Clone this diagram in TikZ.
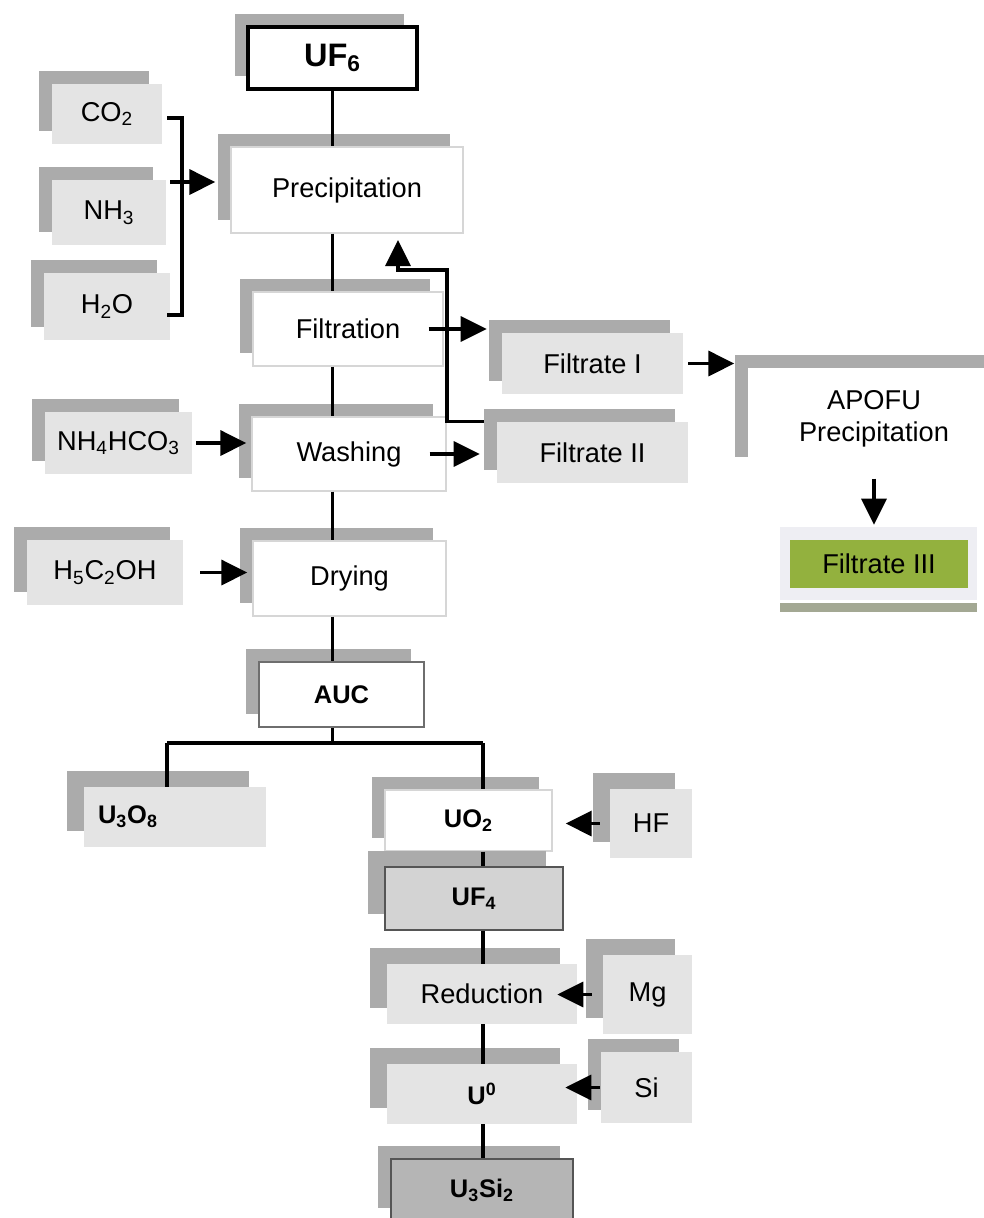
\documentclass[tikz,border=0pt]{standalone}
\usepackage{fontspec}
\setmainfont{Liberation Sans}
\usetikzlibrary{arrows.meta,shadows}
\definecolor{ShadowGray}{HTML}{ABABAB}
\definecolor{BoxGray}{HTML}{E4E4E4}
\definecolor{EdgeGray}{HTML}{D6D6D6}
\definecolor{AucEdge}{HTML}{6E6E6E}
\definecolor{DarkEdge}{HTML}{555555}
\definecolor{FluorideGray}{HTML}{D3D3D3}
\definecolor{SilicideGray}{HTML}{B5B5B5}
\definecolor{FiltrateGreen}{HTML}{93B13E}
\definecolor{FiltrateBack}{HTML}{EEEEF3}
\definecolor{FiltrateBar}{HTML}{A3A893}

\begin{document}
\begin{tikzpicture}[x=0.02cm, y=-0.02cm,
  every node/.style={font=\fontsize{15.5}{18}\selectfont, inner sep=0pt},
  shadowbox/.style={drop shadow={shadow xshift=-0.26cm, shadow yshift=0.26cm, opacity=1, fill=ShadowGray}},
  deepbox/.style={drop shadow={shadow xshift=-0.34cm, shadow yshift=0.32cm, opacity=1, fill=ShadowGray}},
  stepbox/.style={rectangle, fill=white, draw=EdgeGray, line width=0.8pt},
  inbox/.style={rectangle, fill=BoxGray},
  product/.style={font=\fontsize{14.5}{17}\selectfont\bfseries},
  link/.style={line width=2pt},
  flow/.style={link, -{Triangle[length=0.52cm, width=0.5cm]}}]
  \useasboundingbox (0,0) rectangle (984,1218);

  \node[stepbox, shadowbox, draw=black, line width=1.8pt, minimum width=3.38cm, minimum height=1.24cm, font=\fontsize{18.5}{22}\selectfont\bfseries] (uf6) at (332.5,58) {UF\textsubscript{6}};
  \node[inbox, shadowbox, minimum width=2.2cm, minimum height=1.2cm] (co2) at (107,114) {CO\textsubscript{2}};
  \node[inbox, shadowbox, minimum width=2.28cm, minimum height=1.3cm] (nh3) at (109,212.5) {NH\textsubscript{3}};
  \node[inbox, shadowbox, minimum width=2.52cm, minimum height=1.34cm] (h2o) at (107,306.5) {H\textsubscript{2}O};
  \node[stepbox, shadowbox, minimum width=4.64cm, minimum height=1.72cm] (prec) at (347,190) {Precipitation};
  \node[stepbox, shadowbox, minimum width=3.8cm, minimum height=1.48cm] (filt) at (348,329) {Filtration};
  \node[stepbox, shadowbox, minimum width=3.88cm, minimum height=1.48cm] (wash) at (349,454) {Washing};
  \node[stepbox, shadowbox, minimum width=3.86cm, minimum height=1.5cm] (dry) at (349.5,578.5) {Drying};
  \node[inbox, shadowbox, minimum width=2.94cm, minimum height=1.24cm] (nhhco) at (118.5,443) {NH\textsubscript{4}HCO\textsubscript{3}};
  \node[inbox, shadowbox, minimum width=3.12cm, minimum height=1.3cm] (etoh) at (105,572.5) {H\textsubscript{5}C\textsubscript{2}OH};
  \node[inbox, shadowbox, minimum width=3.62cm, minimum height=1.22cm] (filtI) at (592.5,363.5) {Filtrate I};
  \node[inbox, shadowbox, minimum width=3.82cm, minimum height=1.22cm] (filtII) at (592.5,452.5) {Filtrate II};
  \node[stepbox, shadowbox, draw=none, align=center, minimum width=5.04cm, minimum height=2.04cm, font=\fontsize{15.5}{18}\selectfont] (apofu) at (874,419) {APOFU\\Precipitation};
  \node[fill=FiltrateBack, minimum width=3.94cm, minimum height=1.46cm] (filtIIIbg) at (878.5,563.5) {};
  \node[fill=FiltrateGreen, minimum width=3.56cm, minimum height=0.96cm] (filtIII) at (879,564) {Filtrate III};
  \fill[FiltrateBar] ([yshift=-0.06cm]filtIIIbg.south west) rectangle ([yshift=-0.24cm]filtIIIbg.south east);

  \node[stepbox, shadowbox, product, draw=AucEdge, line width=1pt, minimum width=3.3cm, minimum height=1.3cm] (auc) at (341.5,694.5) {AUC};
  \node[inbox, deepbox, product, text width=3.08cm, align=left, inner xsep=0.28cm, minimum height=1.2cm] (u3o8) at (175,817) {U\textsubscript{3}O\textsubscript{8}};
  \node[stepbox, shadowbox, product, minimum width=3.34cm, minimum height=1.22cm] (uo2) at (468.5,820.5) {UO\textsubscript{2}};
  \node[deepbox, product, fill=FluorideGray, draw=DarkEdge, line width=1pt, minimum width=3.56cm, minimum height=1.26cm] (uf4) at (474,898.5) {UF\textsubscript{4}};
  \node[inbox, deepbox, minimum width=3.8cm, minimum height=1.2cm] (red) at (482,994) {Reduction};
  \node[inbox, deepbox, product, minimum width=3.8cm, minimum height=1.2cm] (u0) at (482,1094) {U\textsuperscript{0}};
  \node[shadowbox, product, fill=SilicideGray, draw=DarkEdge, line width=1pt, minimum width=3.64cm, minimum height=1.24cm] (u3si2) at (482,1190) {U\textsubscript{3}Si\textsubscript{2}};

  \begin{scope}
    \clip (0,760) rectangle (692,1140);
    \node[inbox, deepbox, minimum width=1.64cm, minimum height=1.38cm] (hf) at (651,823.5) {HF};
    \node[inbox, deepbox, minimum width=1.78cm, minimum height=1.58cm] (mg) at (647.5,994.5) {Mg};
    \node[inbox, shadowbox, minimum width=1.82cm, minimum height=1.42cm] (si) at (646.5,1087.5) {Si};
  \end{scope}

  \coordinate (brktop) at (167,118);
  \coordinate (brkbot) at (167,315);
  \coordinate (brkmid) at (170,182);
  \draw[link] (brktop) -- ++(15,0) |- (brkbot);
  \draw[flow, shorten >=0.3cm] (brkmid) -- (brkmid -| prec.west);

  \draw[link] (uf6.south) -- (uf6.south |- prec.north);
  \draw[link] (uf6.south |- prec.south) -- (uf6.south |- filt.north);
  \draw[link] (uf6.south |- filt.south) -- (uf6.south |- wash.north);
  \draw[link] (uf6.south |- wash.south) -- (uf6.south |- dry.north);
  \draw[link] (uf6.south |- dry.south) -- (uf6.south |- auc.north);

  \draw[flow, shorten <=-0.3cm, shorten >=0.3cm] (filt.east) -- (filt.east -| filtI.west);
  \draw[flow, shorten <=-0.34cm, shorten >=0.34cm] (wash.east) -- (wash.east -| filtII.west);
  \draw[flow, shorten <=0.08cm, shorten >=0.1cm] (nhhco.east) -- (nhhco.east -| wash.west);
  \draw[flow, shorten <=0.34cm, shorten >=0.1cm] (etoh.east) -- (etoh.east -| dry.west);
  \draw[flow, shorten <=0.1cm, shorten >=0.26cm] (filtI.east) -- (filtI.east -| apofu.west);
  \draw[flow, shorten <=0.16cm, shorten >=0.04cm] (apofu.south) -- (apofu.south |- filtIIIbg.north);

  \coordinate (fbtip) at (398,240);
  \draw[flow] ([xshift=-0.26cm]filtII.north west) -| (447,270) -| (fbtip);

  \coordinate (barL) at (167,743);
  \coordinate (barR) at (483,743);
  \draw[link] (uf6.south |- auc.south) -- (uf6.south |- barL);
  \draw[link] (barL) -- (barR);
  \draw[link] (barL) -- (barL |- u3o8.north);
  \draw[link] (barR) -- (barR |- uo2.north);
  \draw[link] (barR |- uo2.south) -- (barR |- uf4.north);
  \draw[link] (barR |- uf4.south) -- (barR |- red.north);
  \draw[link] (barR |- red.south) -- (barR |- u0.north);
  \draw[link] (barR |- u0.south) -- (barR |- u3si2.north);

  \draw[flow, shorten <=0.2cm, shorten >=0.26cm] (hf.west) -- (hf.west -| uo2.east);
  \draw[flow, shorten <=0.22cm, shorten >=-0.4cm] (mg.west) -- (mg.west -| red.east);
  \draw[flow, shorten <=0.02cm, shorten >=-0.24cm] (si.west) -- (si.west -| u0.east);
\end{tikzpicture}
\end{document}
